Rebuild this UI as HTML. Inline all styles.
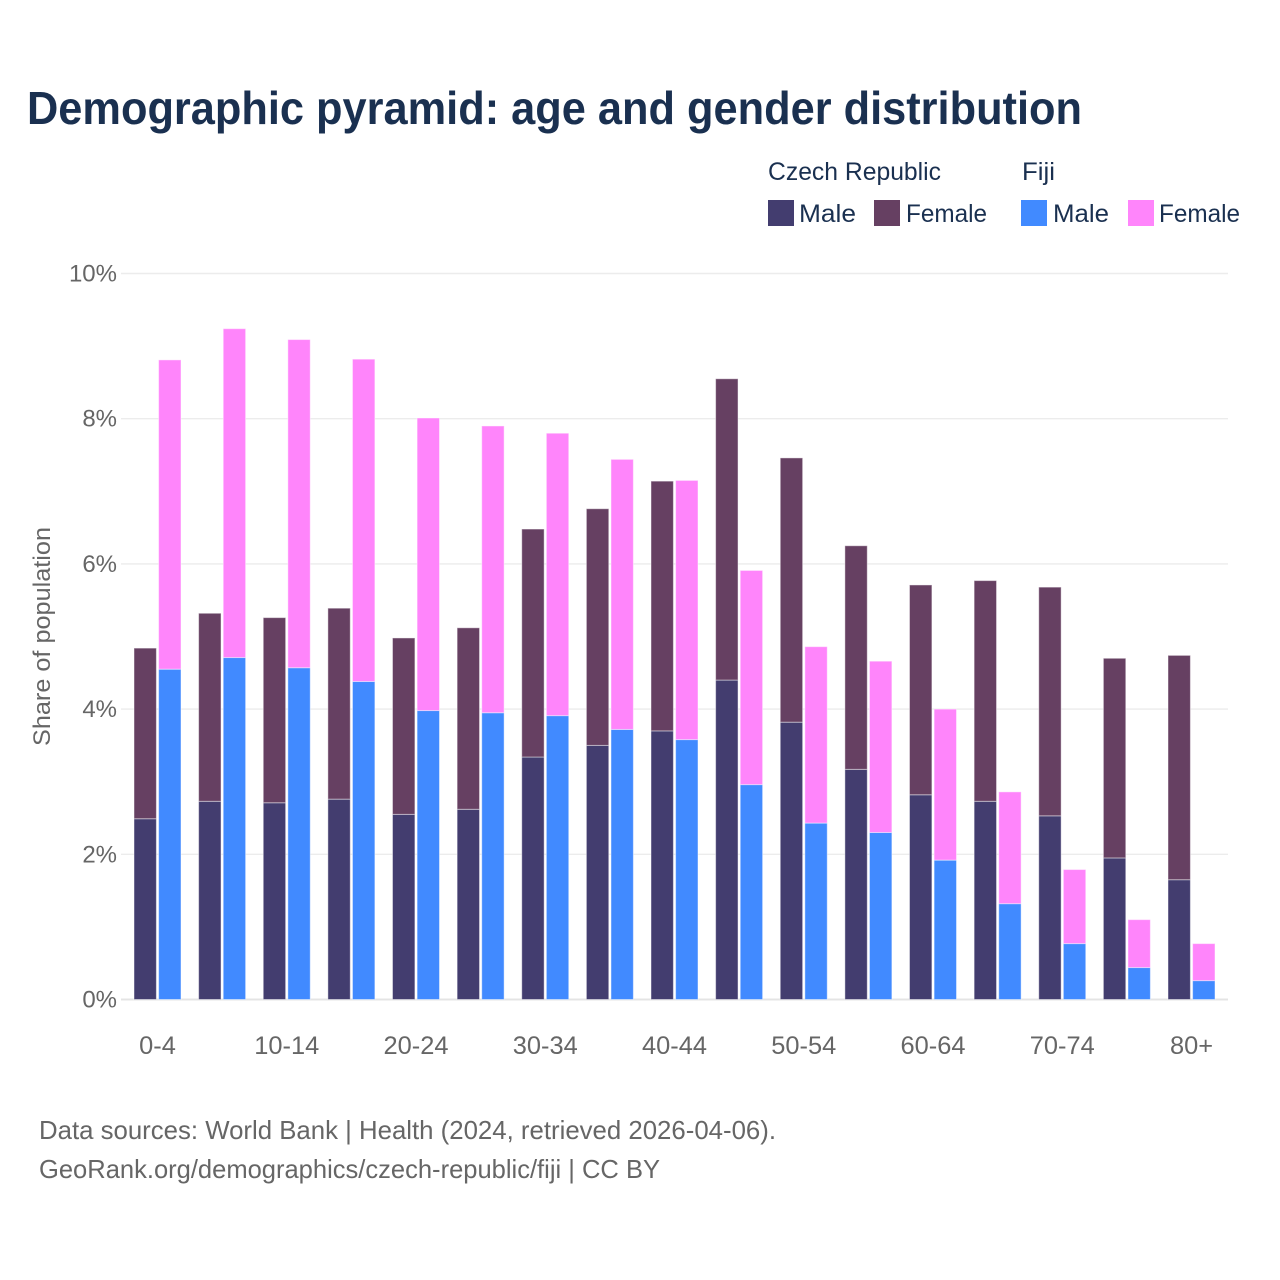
<!DOCTYPE html>
<html lang="en">
<head>
<meta charset="utf-8">
<title>Demographic pyramid: age and gender distribution</title>
<style>
html,body{margin:0;padding:0;background:#fff;}
svg{display:block;font-family:"Liberation Sans",sans-serif;}
</style>
</head>
<body>
<svg id="chart" width="1280" height="1280" viewBox="0 0 1280 1280" xmlns="http://www.w3.org/2000/svg">
  <rect x="0" y="0" width="1280" height="1280" fill="#ffffff"/>
  <text x="27" y="124" font-size="46" font-weight="700" fill="#1a3050" textLength="1055" lengthAdjust="spacingAndGlyphs">Demographic pyramid: age and gender distribution</text>

  <g font-size="25" fill="#1a3050">
    <text x="768" y="180" textLength="173" lengthAdjust="spacingAndGlyphs">Czech Republic</text>
    <text x="1022" y="180" textLength="33" lengthAdjust="spacingAndGlyphs">Fiji</text>
    <rect x="768" y="200" width="26" height="26" fill="#433d6f"/>
    <text x="799" y="222" textLength="57" lengthAdjust="spacingAndGlyphs">Male</text>
    <rect x="874" y="200" width="26" height="26" fill="#664062"/>
    <text x="906" y="222" textLength="81" lengthAdjust="spacingAndGlyphs">Female</text>
    <rect x="1021" y="200" width="26" height="26" fill="#418aff"/>
    <text x="1053" y="222" textLength="56" lengthAdjust="spacingAndGlyphs">Male</text>
    <rect x="1128" y="200" width="26" height="26" fill="#ff85fb"/>
    <text x="1159" y="222" textLength="81" lengthAdjust="spacingAndGlyphs">Female</text>
  </g>

  <g id="grid"></g>
  <g id="yticks" font-size="24" fill="#666666" text-anchor="end"></g>
  <g id="bars"></g>
  <g id="xticks" font-size="25.4" fill="#666666" text-anchor="middle"></g>

  <text transform="translate(50,636.5) rotate(-90)" font-size="24" fill="#666666" text-anchor="middle" textLength="219" lengthAdjust="spacingAndGlyphs">Share of population</text>

  <text x="39" y="1139" font-size="26" fill="#666666" textLength="737" lengthAdjust="spacingAndGlyphs">Data sources: World Bank | Health (2024, retrieved 2026-04-06).</text>
  <text x="39" y="1178" font-size="26" fill="#666666" textLength="621" lengthAdjust="spacingAndGlyphs">GeoRank.org/demographics/czech-republic/fiji | CC BY</text>
</svg>
<script>
const ageGroups = ["0-4","5-9","10-14","15-19","20-24","25-29","30-34","35-39","40-44","45-49","50-54","55-59","60-64","65-69","70-74","75-79","80+"];
const xTickLabels = ["0-4","10-14","20-24","30-34","40-44","50-54","60-64","70-74","80+"];
const yTickValues = [0,2,4,6,8,10];
const czechMale = [2.49,2.73,2.71,2.76,2.55,2.62,3.34,3.50,3.70,4.40,3.82,3.17,2.82,2.73,2.53,1.95,1.65];
const czechFemale = [2.35,2.59,2.55,2.63,2.43,2.50,3.14,3.26,3.44,4.15,3.64,3.08,2.89,3.04,3.15,2.75,3.09];
const fijiMale = [4.55,4.71,4.57,4.38,3.98,3.95,3.91,3.72,3.58,2.96,2.43,2.30,1.92,1.32,0.77,0.44,0.26];
const fijiFemale = [4.26,4.53,4.52,4.44,4.03,3.95,3.89,3.72,3.57,2.95,2.43,2.36,2.08,1.54,1.02,0.66,0.51];

const NS = "http://www.w3.org/2000/svg";
const yScale = v => 999.5 - v * 72.6;
const groupCenter = i => 157.5 + i * 64.625;
const barWidth = 22.4;
const barGap = 2.2;

const gridLayer = document.getElementById("grid");
const yTickLayer = document.getElementById("yticks");
const barLayer = document.getElementById("bars");
const xTickLayer = document.getElementById("xticks");

yTickValues.forEach(v => {
  const line = document.createElementNS(NS, "line");
  
  
  line.setAttribute("x1", 121);
  line.setAttribute("x2", 1228);
  line.setAttribute("y1", yScale(v));
  line.setAttribute("y2", yScale(v));
  line.setAttribute("stroke", v === 0 ? "#e4e4e4" : "#ececec");
  line.setAttribute("stroke-width", v === 0 ? 2 : 1.4);
  gridLayer.appendChild(line);

  const label = document.createElementNS(NS, "text");
  
  
  label.setAttribute("x", 117);
  label.setAttribute("y", yScale(v) + 8);
  label.textContent = v + "%";
  yTickLayer.appendChild(label);
});

function addBar(x, bottomValue, value, color) {
  const rect = document.createElementNS(NS, "rect");
  
  
  rect.setAttribute("x", x);
  rect.setAttribute("y", yScale(bottomValue + value));
  rect.setAttribute("width", barWidth);
  rect.setAttribute("height", yScale(bottomValue) - yScale(bottomValue + value));
  rect.setAttribute("fill", color);
  rect.setAttribute("stroke", "rgba(255,255,255,0.45)");
  rect.setAttribute("stroke-width", 1);
  barLayer.appendChild(rect);
}

ageGroups.forEach((group, i) => {
  const leftX = groupCenter(i) - barGap / 2 - barWidth;
  const rightX = groupCenter(i) + barGap / 2;
  addBar(leftX, 0, czechMale[i], "#433d6f");
  addBar(leftX, czechMale[i], czechFemale[i], "#664062");
  addBar(rightX, 0, fijiMale[i], "#418aff");
  addBar(rightX, fijiMale[i], fijiFemale[i], "#ff85fb");
});

xTickLabels.forEach(tick => {
  const label = document.createElementNS(NS, "text");
  
  
  label.setAttribute("x", groupCenter(ageGroups.indexOf(tick)));
  label.setAttribute("y", 1054);
  label.textContent = tick;
  xTickLayer.appendChild(label);
});
</script>
</body>
</html>
